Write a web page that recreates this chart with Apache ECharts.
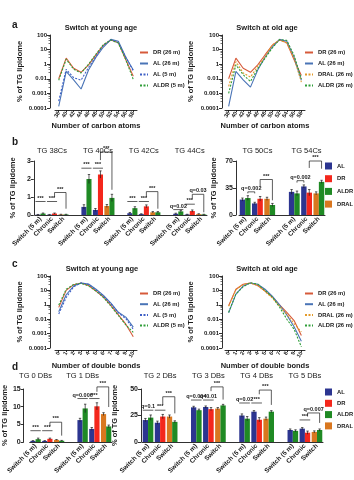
<!DOCTYPE html>
<html>
<head>
<meta charset="utf-8">
<script src="https://cdn.jsdelivr.net/npm/echarts@6/dist/echarts.min.js"></script>
<style>
  html, body { margin: 0; padding: 0; background: #fff; }
  #chart { width: 354px; height: 480px; }
</style>
</head>
<body>
<div id="chart"></div>
<script>
// 面板 a/c 折线（对数轴），面板 b/d 分组柱状 + 误差线 + 显著性标注。

const FONT = '"Liberation Sans", Arial, sans-serif';
const INK = "#1a1a1a";

const LINE_COLORS = { DR: "#d65a3a", AL: "#4a74b6", AL5: "#3d5fc6", ALDR: "#2f9e38", DRAL: "#e39a2a" };
const BAR_COLORS = { AL: "#2c3590", DR: "#f4271c", ALDR: "#1f8a24", DRAL: "#d9771f" };

// ---- 面板 a：碳原子数 ----
const CARBONS = ["38", "40", "42", "44", "46", "48", "50", "52", "54", "56", "58"];
const A_YOUNG_DR   = [0.1, 2.6, 0.53, 0.28, 0.9, 4.3, 20, 45, 29, 2, 0.15];
const A_YOUNG_AL26 = [0.0013, 0.32, 0.085, 0.02, 0.4, 3, 15, 50, 37, 3, 0.4];
const A_YOUNG_AL5  = [0.003, 0.45, 0.12, 0.08, 0.6, 3.5, 20, 48, 30, 3, 0.35];
const A_YOUNG_ALDR = [0.08, 2.2, 0.45, 0.25, 1.0, 5, 22, 45, 28, 2, 0.09];
const A_OLD_DR     = [0.1, 2.6, 0.53, 0.28, 0.9, 4.3, 20, 45, 29, 2, 0.17];
const A_OLD_AL26   = [0.0013, 0.32, 0.085, 0.027, 0.4, 3, 15, 50, 37, 3, 0.08];
const A_OLD_DRAL   = [0.03, 1.5, 0.25, 0.13, 0.7, 3, 21, 45, 28, 2.5, 0.06];
const A_OLD_ALDR   = [0.01, 0.9, 0.19, 0.065, 0.5, 2.5, 13, 48, 43, 4, 0.1];

// ---- 面板 c：双键数 ----
const DOUBLE_BONDS = ["0", "1", "2", "3", "4", "5", "6", "7", "8", "9", "10"];
const C_YOUNG_DR   = [0.66, 10, 25, 33, 22, 9, 3.5, 0.9, 0.2, 0.045, 0.006];
const C_YOUNG_AL26 = [0.33, 5, 20, 33, 28, 12, 4.5, 1.3, 0.3, 0.14, 0.028];
const C_YOUNG_AL5  = [0.23, 3.2, 18, 33, 26, 11, 4, 1.2, 0.28, 0.11, 0.02];
const C_YOUNG_ALDR = [0.95, 12, 26, 31, 21, 9, 3.2, 0.8, 0.18, 0.04, 0.012];
const C_OLD_DR     = [0.87, 12, 27, 33, 22, 9, 3.5, 1, 0.3, 0.08, 0.0075];
const C_OLD_AL26   = [0.28, 5.5, 20, 33, 27, 12, 4, 1, 0.2, 0.03, 0.003];
const C_OLD_DRAL   = [0.8, 11, 26, 32, 22, 8.5, 3, 0.8, 0.22, 0.05, 0.013];
const C_OLD_ALDR   = [0.3, 5.5, 18, 34, 27, 10, 3.5, 0.7, 0.1, 0.02, 0.0012];

// 对数轴刻度文字（按原图印刷的样子，指数 -3..2）
const LOG_TICK_TEXT = ["0.0001", "0.001", "0.01", "1", "10", "100"];

// ---- 柱状图：每组 3 个位置，每个位置两根柱 ----
const SLOTS = ["Switch (5 m)", "Chronic", "Switch"];
const SLOT_COLORS = [["AL", "ALDR"], ["AL", "DR"], ["DRAL", "ALDR"]];

const B_LEFT_TITLES = ["TG 38Cs", "TG 40Cs", "TG 42Cs", "TG 44Cs"];
const B_LEFT_FIRST  = [[0.02, 0.02, 0.03], [0.45, 0.28, 0.5], [0.1, 0.05, 0.15], [0.07, 0.03, 0.05]];
const B_LEFT_SECOND = [[0.08, 0.08, 0.03], [2.0, 2.25, 0.95], [0.38, 0.48, 0.15], [0.2, 0.22, 0.03]];
const B_LEFT_SD_FIRST  = [[0.01, 0.01, 0.01], [0.12, 0.08, 0.08], [0.04, 0.02, 0.04], [0.03, 0.01, 0.02]];
const B_LEFT_SD_SECOND = [[0.03, 0.03, 0.01], [0.25, 0.2, 0.2], [0.08, 0.08, 0.04], [0.06, 0.06, 0.01]];

const B_RIGHT_TITLES = ["TG 50Cs", "TG 54Cs"];
const B_RIGHT_FIRST  = [[20, 15, 21], [30, 37, 28]];
const B_RIGHT_SECOND = [[22, 21, 13], [28, 29, 43]];
const B_RIGHT_SD_FIRST  = [[2, 1.5, 2], [3, 2, 2]];
const B_RIGHT_SD_SECOND = [[3, 3, 2], [3, 4, 2]];

const D_LEFT_TITLES = ["TG 0 DBs", "TG 1 DBs"];
const D_LEFT_FIRST  = [[0.3, 0.3, 0.6], [6.2, 3.7, 7.9]];
const D_LEFT_SECOND = [[0.8, 0.9, 0.35], [9.5, 10.1, 4.4]];
const D_LEFT_SD_FIRST  = [[0.1, 0.1, 0.1], [0.5, 0.4, 0.4]];
const D_LEFT_SD_SECOND = [[0.3, 0.2, 0.1], [1.2, 1.0, 0.4]];

const D_MID_TITLES = ["TG 2 DBs", "TG 3 DBs", "TG 4 DBs", "TG 5 DBs"];
const D_MID_FIRST  = [[20.7, 18.2, 24], [32.7, 33, 31.5], [25, 28.6, 22], [11.3, 12.6, 9.5]];
const D_MID_SECOND = [[23, 24, 19], [30, 31, 34.5], [22, 21, 28.6], [10.5, 8.8, 11.3]];
const D_MID_SD_FIRST  = [[1.5, 1.5, 1.5], [1, 1, 1], [1.5, 1, 1.5], [1, 1, 1]];
const D_MID_SD_SECOND = [[2.5, 2, 1], [1, 1.5, 1], [2, 2, 1], [1, 1.5, 1]];

// 显著性标注：[组, 起位置, 起侧, 止位置, 止侧, 顶高, 左脚高, 右脚高, 文字]
// 侧：以半根柱宽为单位（-2..2 覆盖一对柱）
const B_LEFT_SIG = [
  [0, 0, -2, 0, 2, 0.75, 0.75, 0.75, "***"], [0, 1, -2, 1, 2, 0.75, 0.75, 0.75, "***"],
  [0, 1, 1, 2, 1, 1.25, 1.0, 0.35, "***"],
  [1, 0, -2, 0, 2, 2.6, 2.6, 2.6, "***"], [1, 1, -2, 1, 2, 2.6, 2.6, 2.6, "***"],
  [1, 1, 1, 2, 1, 3.5, 3.05, 1.4, "***"],
  [2, 0, -2, 0, 2, 0.75, 0.75, 0.75, "***"], [2, 1, -2, 1, 2, 0.75, 0.75, 0.75, "***"],
  [2, 1, 1, 2, 1, 1.3, 1.0, 0.35, "***"],
  [3, 0, -2, 0, 2, 0.3, 0.3, 0.3, "q=0.02"], [3, 1, -2, 1, 2, 0.6, 0.6, 0.6, "***"],
  [3, 1, 1, 2, 1, 1.15, 0.9, 0.15, "q=0.03"],
];
const B_RIGHT_SIG = [
  [0, 0, 1, 1, -1, 30, 28, 28, "q=0.002"], [0, 1, 1, 2, 1, 46, 37, 19, "***"],
  [1, 0, 1, 1, -1, 44.5, 42, 42, "q=0.002"], [1, 1, 1, 2, 1, 70, 61, 60, "***"],
];
const D_LEFT_SIG = [
  [0, 0, -2, 0, 2, 3.2, 3.2, 3.2, "***"], [0, 1, -2, 1, 2, 3.2, 3.2, 3.2, "***"],
  [0, 1, 1, 2, 1, 5.6, 4.5, 1.8, "***"],
  [1, 0, -2, 0, 2, 12.3, 12.3, 12.3, "q=0.006"], [1, 1, -2, 1, 2, 12.3, 12.3, 12.3, "***"],
  [1, 1, 1, 2, 1, 15.6, 14.2, 9.9, "***"],
];
const D_MID_SIG = [
  [0, 0, -2, 0, 2, 30, 30, 30, "q=0.1"], [0, 1, -2, 1, 2, 30, 30, 30, "***"],
  [0, 1, 1, 2, 1, 42.7, 35, 27, "***"],
  [1, 0, -2, 0, 2, 39.6, 39.6, 39.6, "q=0.004"], [1, 1, -2, 1, 2, 39.6, 39.6, 39.6, "q=0.01"],
  [1, 1, 1, 2, 1, 52, 48, 40, "***"],
  [2, 0, -2, 0, 2, 36.8, 36.8, 36.8, "q=0.02"], [2, 1, -2, 1, 2, 36.8, 36.8, 36.8, "***"],
  [2, 1, 1, 2, 1, 49, 45, 35, "***"],
  [3, 1, -2, 1, 2, 20.8, 20.8, 20.8, "***"],
  [3, 1, 1, 2, 1, 27.4, 24, 18, "q=0.007"],
];

const GROUP_SPAN = 4;   // 3 个位置 + 1 个空位
const CAT_GAP = 0.12;

const AXIS_LINE = { color: INK, width: 0.9 };
const NAME_STYLE = { fontFamily: FONT, fontSize: 7.5, fontWeight: "bold", color: INK };

function flatCats(n) {
  const out = [];
  for (let g = 0; g < n; g++) {
    SLOTS.forEach((s) => out.push(s));
    if (g < n - 1) out.push("");
  }
  return out;
}
function titleCats(titles, slot) {
  const out = [];
  titles.forEach((t, g) => {
    for (let s = 0; s < 3; s++) out.push(s === slot ? t : "");
    if (g < titles.length - 1) out.push("");
  });
  return out;
}
function barData(groups, which) {
  const out = [];
  groups.forEach((vals, g) => {
    vals.forEach((v, s) => out.push({ value: v, itemStyle: { color: BAR_COLORS[SLOT_COLORS[s][which]] } }));
    if (g < groups.length - 1) out.push(null);
  });
  return out;
}
// 误差线数据：[类目序号, 侧(-1 左柱 / 1 右柱), 下端, 上端]
function errData(first, second, sdFirst, sdSecond) {
  const out = [];
  first.forEach((vals, g) => {
    vals.forEach((m, s) => {
      const m2 = second[g][s];
      out.push([g * GROUP_SPAN + s, -1, m - sdFirst[g][s], m + sdFirst[g][s]]);
      out.push([g * GROUP_SPAN + s, 1, m2 - sdSecond[g][s], m2 + sdSecond[g][s]]);
    });
  });
  return out;
}

function logYAxis(gi, offset, nameGap) {
  return {
    type: "log", gridIndex: gi, min: 0.001, max: 100, logBase: 10, offset,
    name: "% of TG lipidome", nameLocation: "middle", nameGap, nameTextStyle: NAME_STYLE,
    axisLine: { show: true, lineStyle: AXIS_LINE },
    axisTick: { show: true, length: 3, lineStyle: AXIS_LINE },
    minorTick: { show: true, splitNumber: 5, length: 1.5, lineStyle: { color: INK, width: 0.6 } },
    splitLine: { show: false },
    axisLabel: {
      fontFamily: FONT, fontSize: 6, fontWeight: "bold", color: INK, margin: 3,
      formatter: (v) => LOG_TICK_TEXT[Math.round(Math.log10(v)) + 3],
    },
  };
}
function lineXAxis(gi, cats, name) {
  return {
    type: "category", gridIndex: gi, data: cats, offset: 2,
    name, nameLocation: "middle", nameGap: 12, nameTextStyle: NAME_STYLE,
    axisLine: { show: true, lineStyle: AXIS_LINE },
    axisTick: { show: true, alignWithLabel: true, length: 2, lineStyle: AXIS_LINE },
    axisLabel: { interval: 0, rotate: 60, fontFamily: FONT, fontSize: 5.5, fontWeight: "bold", color: INK, margin: 2 },
  };
}
function barXAxis(gi, n) {
  return {
    type: "category", gridIndex: gi, data: flatCats(n),
    axisLine: { show: true, lineStyle: AXIS_LINE }, axisTick: { show: false },
    axisLabel: { interval: 0, rotate: 45, fontFamily: FONT, fontSize: 6.5, fontWeight: "bold", color: INK, margin: 3 },
  };
}
function titleXAxis(gi, titles, slot, margin) {
  return {
    type: "category", gridIndex: gi, position: "top", data: titleCats(titles, slot),
    axisLine: { show: false }, axisTick: { show: false },
    axisLabel: { interval: 0, fontFamily: FONT, fontSize: 7.5, color: INK, margin },
  };
}
function barYAxis(gi, max, interval, offset, nameGap) {
  return {
    type: "value", gridIndex: gi, min: 0, max, interval, offset,
    name: "% of TG lipidome", nameLocation: "middle", nameGap, nameTextStyle: NAME_STYLE,
    axisLine: { show: true, lineStyle: AXIS_LINE },
    axisTick: { show: true, length: 3, lineStyle: AXIS_LINE },
    splitLine: { show: false },
    axisLabel: { fontFamily: FONT, fontSize: 7, fontWeight: "bold", color: INK, margin: 3 },
  };
}

function lineSeries(name, idx, data, color, dotted) {
  return {
    type: "line", name, xAxisIndex: idx, yAxisIndex: idx, data, symbol: "none",
    lineStyle: { color, width: 1.1, type: dotted ? [2, 1.5] : "solid" },
    itemStyle: { color },
  };
}
function barSeries(xi, yi, first, second, sdFirst, sdSecond) {
  const common = { type: "bar", xAxisIndex: xi, yAxisIndex: yi, barGap: "0%", barCategoryGap: CAT_GAP * 100 + "%" };
  return [
    Object.assign({ data: barData(first, 0) }, common),
    Object.assign({ data: barData(second, 1) }, common),
    {
      type: "custom", xAxisIndex: xi, yAxisIndex: yi, silent: true, z: 4,
      data: errData(first, second, sdFirst, sdSecond),
      renderItem(params, api) {
        const band = api.size([1, 0])[0];
        const half = (band * (1 - CAT_GAP)) / 4;
        const x = api.coord([api.value(0), 0])[0] + api.value(1) * half;
        const lo = api.coord([0, Math.max(api.value(2), 0)])[1];
        const hi = api.coord([0, api.value(3)])[1];
        const st = { stroke: INK, lineWidth: 0.7 };
        return {
          type: "group",
          children: [
            { type: "line", shape: { x1: x, y1: lo, x2: x, y2: hi }, style: st },
            { type: "line", shape: { x1: x - 1.2, y1: hi, x2: x + 1.2, y2: hi }, style: st },
          ],
        };
      },
    },
  ];
}
function sigSeries(xi, yi, sigs) {
  return {
    type: "custom", xAxisIndex: xi, yAxisIndex: yi, silent: true, clip: false, z: 5,
    data: sigs.map((s) => [s[0] * GROUP_SPAN + s[1], s[5]]),
    renderItem(params, api) {
      const s = sigs[params.dataIndex];
      const band = api.size([1, 0])[0];
      const half = (band * (1 - CAT_GAP)) / 4;
      const xa = api.coord([s[0] * GROUP_SPAN + s[1], 0])[0] + s[2] * half;
      const xb = api.coord([s[0] * GROUP_SPAN + s[3], 0])[0] + s[4] * half;
      const yTop = api.coord([0, s[5]])[1];
      const ya = api.coord([0, s[6]])[1];
      const yb = api.coord([0, s[7]])[1];
      return {
        type: "group",
        children: [
          { type: "polyline", shape: { points: [[xa, ya], [xa, yTop], [xb, yTop], [xb, yb]] },
            style: { stroke: INK, lineWidth: 0.7, fill: null } },
          { type: "text", x: (xa + xb) / 2, y: yTop - 0.5,
            style: { text: s[8], fill: INK, font: "bold 5.5px " + FONT, align: "center", verticalAlign: "bottom" } },
        ],
      };
    },
  };
}

const LEGEND_TEXT = { fontFamily: FONT, fontSize: 5.8, fontWeight: "bold", color: INK };
function lineLegend(names, left, top, gap) {
  return { orient: "vertical", left, top, padding: 0, itemWidth: 8, itemHeight: 7, itemGap: gap,
    data: names, textStyle: LEGEND_TEXT, selectedMode: false, itemStyle: { opacity: 0 } };
}
function barLegend(left, top, gap) {
  return { orient: "vertical", left, top, padding: 0, itemWidth: 7, itemHeight: 7, itemGap: gap, icon: "rect",
    data: ["AL", "DR", "ALDR", "DRAL"], textStyle: LEGEND_TEXT, selectedMode: false };
}

const letter = (t, top) => ({ text: t, left: 7, top, textStyle: { fontFamily: FONT, fontSize: 10, fontWeight: "bold", color: INK } });
const heading = (t, x, top) => ({ text: t, left: x, top, textAlign: "center",
  textStyle: { fontFamily: FONT, fontSize: 7.5, fontWeight: "bold", color: INK } });

const chart = echarts.init(document.getElementById("chart"), null, { renderer: "canvas" });

const option = {
  animation: false,
  backgroundColor: "#fff",
  title: [
    letter("a", 15), letter("b", 132), letter("c", 254), letter("d", 357),
    heading("Switch at young age", 96, 19), heading("Switch at old age", 262, 19),
    heading("Switch at young age", 97, 260), heading("Switch at old age", 262, 260),
  ],
  legend: [
    lineLegend(["DR (26 m)", "AL (26 m)", "AL (5 m)", "ALDR (5 m)"], 139, 49.5, 5),
    lineLegend(["DR (26 m)", "AL (26 m)", "DRAL (26 m)", "ALDR (26 m)"], 304, 49.5, 5),
    lineLegend(["DR (26 m)", "AL (26 m)", "AL (5 m)", "ALDR (5 m)"], 139, 290.5, 4.7),
    lineLegend(["DR (26 m)", "AL (26 m)", "DRAL (26 m)", "ALDR (26 m)"], 304, 290.5, 4.7),
    barLegend(325, 162.5, 5.7),
    barLegend(325, 388.5, 4.3),
  ],
  grid: [
    { left: 55, top: 35, width: 82, height: 73 },
    { left: 225, top: 35, width: 80, height: 73 },
    { left: 55, top: 276, width: 82, height: 72 },
    { left: 225, top: 276, width: 80, height: 72 },
    { left: 27, top: 161, width: 180, height: 54 },
    { left: 239, top: 161, width: 86, height: 54 },
    { left: 26, top: 389, width: 86, height: 53 },
    { left: 142, top: 389, width: 181, height: 53 },
    { left: -60, top: -60, width: 10, height: 10 },
  ],
  xAxis: [
    lineXAxis(0, CARBONS, "Number of carbon atoms"),
    lineXAxis(1, CARBONS, "Number of carbon atoms"),
    lineXAxis(2, DOUBLE_BONDS, "Number of double bonds"),
    lineXAxis(3, DOUBLE_BONDS, "Number of double bonds"),
    barXAxis(4, B_LEFT_TITLES.length), titleXAxis(4, B_LEFT_TITLES, 1, 6),
    barXAxis(5, B_RIGHT_TITLES.length), titleXAxis(5, B_RIGHT_TITLES, 1, 6),
    barXAxis(6, D_LEFT_TITLES.length), titleXAxis(6, D_LEFT_TITLES, 0, 9),
    barXAxis(7, D_MID_TITLES.length), titleXAxis(7, D_MID_TITLES, 1, 9),
    { type: "category", gridIndex: 8, show: false, data: ["x"] },
  ],
  yAxis: [
    logYAxis(0, 5, 26), logYAxis(1, 3, 27), logYAxis(2, 5, 26), logYAxis(3, 3, 27),
    barYAxis(4, 3, 1, 1, 17), barYAxis(5, 70, 35, 3, 18),
    barYAxis(6, 15, 5, 6, 14), barYAxis(7, 50, 25, 1, 19),
    { type: "value", gridIndex: 8, show: false },
  ],
  series: [
    lineSeries("DR (26 m)", 0, A_YOUNG_DR, LINE_COLORS.DR, false),
    lineSeries("AL (26 m)", 0, A_YOUNG_AL26, LINE_COLORS.AL, false),
    lineSeries("AL (5 m)", 0, A_YOUNG_AL5, LINE_COLORS.AL5, true),
    lineSeries("ALDR (5 m)", 0, A_YOUNG_ALDR, LINE_COLORS.ALDR, true),
    lineSeries("DR (26 m)", 1, A_OLD_DR, LINE_COLORS.DR, false),
    lineSeries("AL (26 m)", 1, A_OLD_AL26, LINE_COLORS.AL, false),
    lineSeries("DRAL (26 m)", 1, A_OLD_DRAL, LINE_COLORS.DRAL, true),
    lineSeries("ALDR (26 m)", 1, A_OLD_ALDR, LINE_COLORS.ALDR, true),
    lineSeries("DR (26 m)", 2, C_YOUNG_DR, LINE_COLORS.DR, false),
    lineSeries("AL (26 m)", 2, C_YOUNG_AL26, LINE_COLORS.AL, false),
    lineSeries("AL (5 m)", 2, C_YOUNG_AL5, LINE_COLORS.AL5, true),
    lineSeries("ALDR (5 m)", 2, C_YOUNG_ALDR, LINE_COLORS.ALDR, true),
    lineSeries("DR (26 m)", 3, C_OLD_DR, LINE_COLORS.DR, false),
    lineSeries("AL (26 m)", 3, C_OLD_AL26, LINE_COLORS.AL, false),
    lineSeries("DRAL (26 m)", 3, C_OLD_DRAL, LINE_COLORS.DRAL, true),
    lineSeries("ALDR (26 m)", 3, C_OLD_ALDR, LINE_COLORS.ALDR, true),

    ...barSeries(4, 4, B_LEFT_FIRST, B_LEFT_SECOND, B_LEFT_SD_FIRST, B_LEFT_SD_SECOND), sigSeries(4, 4, B_LEFT_SIG),
    ...barSeries(6, 5, B_RIGHT_FIRST, B_RIGHT_SECOND, B_RIGHT_SD_FIRST, B_RIGHT_SD_SECOND), sigSeries(6, 5, B_RIGHT_SIG),
    ...barSeries(8, 6, D_LEFT_FIRST, D_LEFT_SECOND, D_LEFT_SD_FIRST, D_LEFT_SD_SECOND), sigSeries(8, 6, D_LEFT_SIG),
    ...barSeries(10, 7, D_MID_FIRST, D_MID_SECOND, D_MID_SD_FIRST, D_MID_SD_SECOND), sigSeries(10, 7, D_MID_SIG),

    // 仅供图例使用的空系列
    ...Object.keys(BAR_COLORS).map((k) => ({
      type: "bar", name: k, xAxisIndex: 12, yAxisIndex: 8, data: [], itemStyle: { color: BAR_COLORS[k] },
    })),
  ],
};

chart.setOption(option);
</script>
</body>
</html>
